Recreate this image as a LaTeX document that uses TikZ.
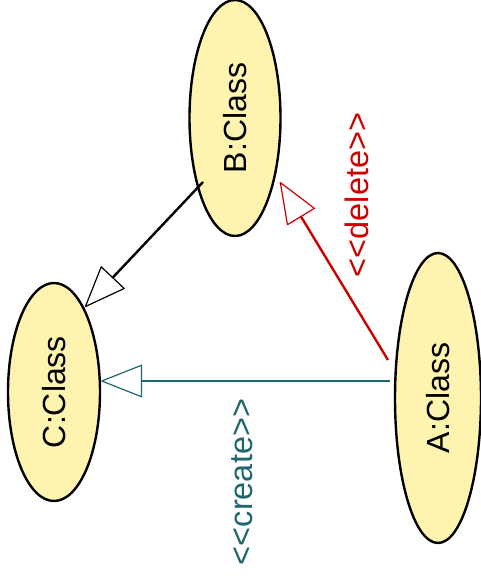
\documentclass[tikz,border=0pt]{standalone}
\usepackage{fontspec}
\setmainfont{Liberation Sans}
\usepackage{graphicx}
\usepackage{tikz}
\usetikzlibrary{arrows.meta,shapes.geometric}

\definecolor{objfill}{RGB}{255,243,176}
\definecolor{delred}{RGB}{204,0,0}
\definecolor{creteal}{RGB}{31,102,110}

\tikzset{
  object/.style={ellipse,draw=black,line width=2.4pt,fill=objfill,inner sep=0pt,
    font=\fontsize{32}{38}\selectfont},
  stereo/.style={rotate=90,inner sep=0pt,font=\fontsize{32.5}{38}\selectfont},
  realize/.style={line width=2.4pt,
    -{Triangle[length=42pt,width=33pt,fill=white,line width=1.2pt,round]}}
}

\begin{document}
\begin{tikzpicture}[x=1pt,y=-1pt]
  \useasboundingbox (0,0) rectangle (481,579);
  \node[object,minimum width=91pt,minimum height=236pt] (bclass) at (235,118) {\rotatebox{90}{B:Class}};
  \node[object,minimum width=86pt,minimum height=290pt] (aclass) at (438,398) {\rotatebox{90}{A:Class}};
  \node[object,minimum width=92pt,minimum height=218pt] (cclass) at (54,392) {\rotatebox{90}{C:Class}};

  \coordinate (bfrom) at (203,182);
  \coordinate (cto) at (85,307);
  \coordinate (afromdel) at (388,360);
  \coordinate (bto) at (280,182);
  \coordinate (afromcre) at (390,381);

  \draw[realize,draw=black] (bfrom) -- (cto);
  \draw[realize,draw=delred] (afromdel) -- (bto);
  \draw[realize,draw=creteal] (afromcre) -- (afromcre -| cclass.east);

  \node[stereo,text=delred] (deletetext) at (357,195) {<{}<delete>{}>};
  \node[stereo,text=creteal] (createtext) at (242,482) {<{}<create>{}>};
\end{tikzpicture}
\end{document}
